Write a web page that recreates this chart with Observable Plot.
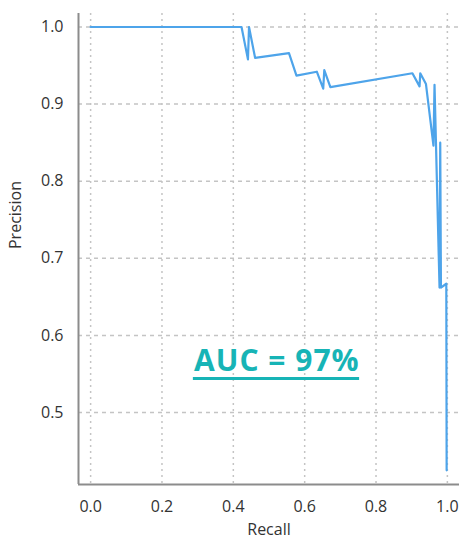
<!DOCTYPE html>
<html>
<head>
<meta charset="utf-8">
<script src="https://cdn.jsdelivr.net/npm/d3@7"></script>
<script src="https://cdn.jsdelivr.net/npm/@observablehq/plot@0.6"></script>
<style>
  body { margin: 0; background: #fff; }
  #chart { position: relative; width: 472px; height: 550px; }
</style>
</head>
<body>
<div id="chart"></div>
<script>
const recall = [0, 0.423, 0.441, 0.444, 0.461, 0.556, 0.577, 0.634, 0.652, 0.655, 0.672, 0.902, 0.922, 0.924, 0.940, 0.961, 0.964, 0.978, 0.980, 0.982, 0.997, 0.998];
const precision = [1.0, 1.0, 0.958, 1.0, 0.960, 0.966, 0.937, 0.942, 0.920, 0.944, 0.922, 0.940, 0.923, 0.940, 0.926, 0.846, 0.925, 0.662, 0.850, 0.662, 0.667, 0.425];
const xTicks = [0, 0.2, 0.4, 0.6, 0.8, 1.0];
const yTicks = [0.5, 0.6, 0.7, 0.8, 0.9, 1.0];
const xLabel = "Recall";
const yLabel = "Precision";
const aucText = "AUC = 97%";

const data = recall.map((r, i) => ({recall: r, precision: precision[i]}));
const xDomain = [-0.034, 1.034];
const yDomain = [0.4066, 1.0175];

const chart = Plot.plot({
  width: 472,
  height: 550,
  marginLeft: 78,
  marginRight: 13,
  marginTop: 13,
  marginBottom: 66,
  style: {fontFamily: "'Open Sans', sans-serif", background: "#fff"},
  x: {domain: xDomain},
  y: {domain: yDomain},
  marks: [
    Plot.gridX(xTicks, {stroke: "#c4c4c4", strokeOpacity: 1, strokeWidth: 1.5, strokeDasharray: "2,4"}),
    Plot.gridY(yTicks, {stroke: "#c4c4c4", strokeOpacity: 1, strokeWidth: 1.5, strokeDasharray: "4,4"}),
    Plot.ruleX([xDomain[0]], {stroke: "#8c8c8c", strokeWidth: 2}),
    Plot.ruleY([yDomain[0]], {stroke: "#8c8c8c", strokeWidth: 2}),
    Plot.axisX(xTicks, {tickSize: 0, tickPadding: 16, fontSize: 16, fill: "#333", tickFormat: d3.format(".1f"), label: null}),
    Plot.axisY(yTicks, {tickSize: 0, tickPadding: 15, fontSize: 16, fill: "#333", tickFormat: d3.format(".1f"), label: null}),
    Plot.line(data, {x: "recall", y: "precision", stroke: "#4ea4ea", strokeWidth: 2.2, curve: "linear"}),
    Plot.text([xLabel], {frameAnchor: "bottom", dy: 50, fontSize: 16, fill: "#333"}),
    Plot.text([yLabel], {frameAnchor: "left", dx: -63, rotate: -90, fontSize: 16, fill: "#333"}),
    Plot.text([aucText], {x: 0.522, y: 0.566, fontSize: 30, fontWeight: "bold", fill: "#17b4b6",
      render(index, scales, values, dims, context, next) {
        const g = next(index, scales, values, dims, context);
        d3.select(g).selectAll("text").style("letter-spacing", "1px");
        return g;
      }}),
    Plot.ruleY([0.544], {x1: 0.288, x2: 0.754, stroke: "#17b4b6", strokeWidth: 3})
  ]
});
document.getElementById("chart").appendChild(chart);
</script>
</body>
</html>
